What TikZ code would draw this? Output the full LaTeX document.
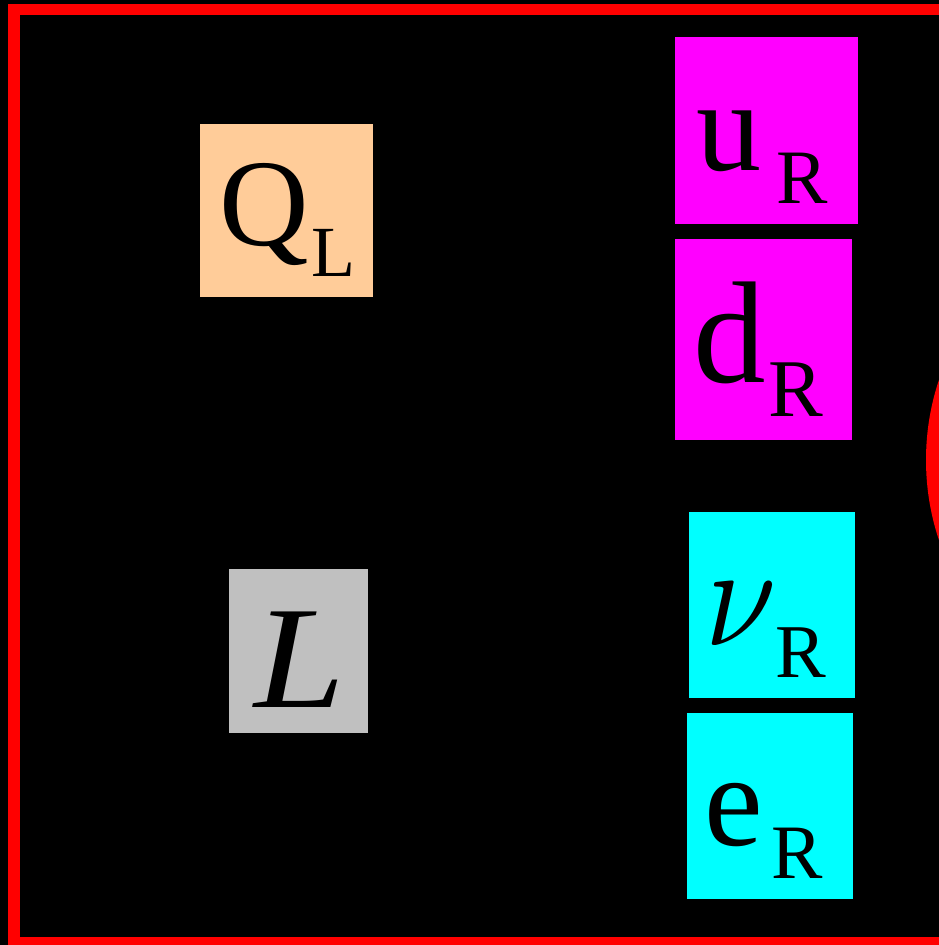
\documentclass[tikz,border=0pt]{standalone}
\usepackage{fontspec}
\setmainfont{Liberation Serif}
\definecolor{peach}{HTML}{FFCC99}
\definecolor{magentabox}{HTML}{FF00FF}
\definecolor{cyanbox}{HTML}{00FFFF}
\definecolor{graybox}{HTML}{C0C0C0}
\begin{document}
\begin{tikzpicture}[x=1pt,y=-1pt,
  box/.style={inner sep=0pt, outer sep=0pt, anchor=north west},
  glyph/.style={inner sep=0pt, outer sep=0pt, anchor=base west, text=black},
  frame/.style={draw=red, line width=11.5pt}]
\useasboundingbox (0,0) rectangle (939,945);
\clip (0,0) rectangle (939,945);
\fill[black] (0,0) rectangle (939,945);
\draw[frame] (13.75,9.25) rectangle (980,942.75);
\fill[red] (1179,460) circle[radius=253];
% boxes
\node (QLbox) [box, fill=peach, minimum width=173pt, minimum height=173pt] at (200,124) {};
\node (uRbox) [box, fill=magentabox, minimum width=183pt, minimum height=187pt] at (675,37) {};
\node (dRbox) [box, fill=magentabox, minimum width=177pt, minimum height=201pt] at (675,239) {};
\node (nuRbox) [box, fill=cyanbox, minimum width=166pt, minimum height=186pt] at (689,512) {};
\node (eRbox) [box, fill=cyanbox, minimum width=166pt, minimum height=186pt] at (687,713) {};
\node (Lbox) [box, fill=graybox, minimum width=139pt, minimum height=164pt] at (229,569) {};
% labels
\node (QLmain) [glyph] at (219,245) {\fontsize{124}{124}\selectfont Q};
\node (QLsub) [glyph] at (311,276) {\fontsize{72}{72}\selectfont L};
\node (uRmain) [glyph] at (696,170) {\fontsize{130}{130}\selectfont u};
\node (uRsub) [glyph] at (776,203) {\fontsize{77}{77}\selectfont R};
\node (dRmain) [glyph] at (693,382) {\fontsize{145}{145}\selectfont d};
\node (dRsub) [glyph] at (768,416) {\fontsize{82}{82}\selectfont R};
\node (nuRmain) [glyph] at (705,645) {\scalebox{12.8}[14.6]{$\nu$}};
\node (nuRsub) [glyph] at (775,677) {\fontsize{76}{76}\selectfont R};
\node (eRmain) [glyph] at (704,845) {\fontsize{132}{132}\selectfont e};
\node (eRsub) [glyph] at (771,878) {\fontsize{77}{77}\selectfont R};
\node (Lmain) [glyph] at (254,707) {\fontsize{146}{146}\selectfont\scalebox{1.12}[1]{\itshape L}};
\end{tikzpicture}
\end{document}
